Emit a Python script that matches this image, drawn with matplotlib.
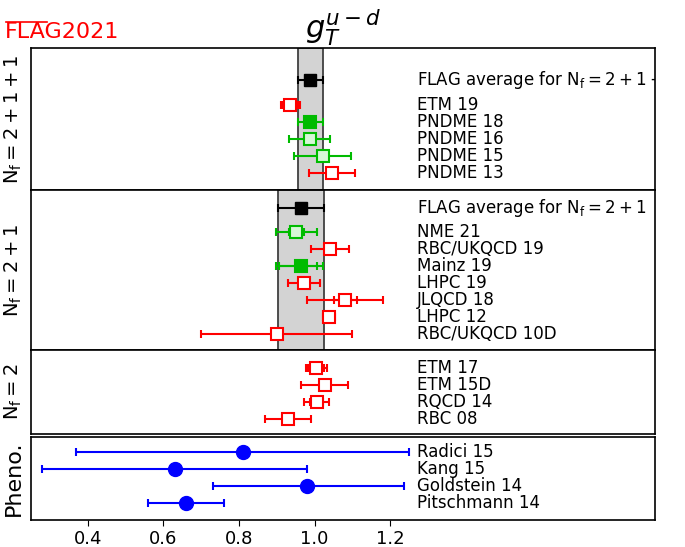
# g_T^{u-d} FLAG 2021 プロット
import numpy as np
import matplotlib
matplotlib.use("Agg")
from matplotlib import pyplot as plt
from matplotlib.lines import Line2D

# --------------------------------------------
# データ
# --------------------------------------------

# Nf=2+1+1
avg_2111 = 0.989
avg_2111_err = 0.033
labels_2111 = ["ETM 19", "PNDME 18", "PNDME 16", "PNDME 15", "PNDME 13"]
vals_2111 = [0.936, 0.989, 0.987, 1.021, 1.047]
inner_2111 = [0.021, 0.032, 0.054, 0.076, 0.061]
outer_2111 = [0.026, 0.032, 0.054, 0.076, 0.061]
style_2111 = ["red_open", "green_full", "green_open", "green_open", "red_open"]

# Nf=2+1
avg_21 = 0.965
avg_21_err = 0.061
labels_21 = ["NME 21", "RBC/UKQCD 19", "Mainz 19", "LHPC 19", "JLQCD 18", "LHPC 12", "RBC/UKQCD 10D"]
vals_21 = [0.951, 1.040, 0.965, 0.972, 1.081, 1.038, 0.900]
inner_lo_21 = [0.020, 0.050, 0.059, 0.042, 0.030, 0.011, 0.200]
inner_hi_21 = [0.020, 0.050, 0.042, 0.042, 0.030, 0.011, 0.200]
outer_lo_21 = [0.054, 0.050, 0.068, 0.042, 0.100, 0.016, 0.200]
outer_hi_21 = [0.054, 0.050, 0.056, 0.042, 0.100, 0.016, 0.200]
style_21 = ["green_open", "red_open", "green_full", "red_open", "red_open", "red_open", "red_open"]

# Nf=2
labels_2 = ["ETM 17", "ETM 15D", "RQCD 14", "RBC 08"]
vals_2 = [1.004, 1.027, 1.005, 0.930]
inner_2 = [0.021, 0.062, 0.017, 0.060]
outer_2 = [0.028, 0.062, 0.034, 0.060]

# Pheno.
labels_ph = ["Radici 15", "Kang 15", "Goldstein 14", "Pitschmann 14"]
vals_ph = [0.81, 0.63, 0.98, 0.66]
err_lo_ph = [0.44, 0.35, 0.25, 0.10]
err_hi_ph = [0.44, 0.35, 0.255, 0.10]

xticks = [0.4, 0.6, 0.8, 1.0, 1.2]

# --------------------------------------------
# スタイル
# --------------------------------------------
RED = "#ff0000"
GREEN = "#00bb00"
LGREEN = "#d6f7d6"
BLUE = "#0000ff"

styles = {
    "red_open": dict(color=RED, mfc="white", mec=RED),
    "green_open": dict(color=GREEN, mfc=LGREEN, mec=GREEN),
    "green_full": dict(color=GREEN, mfc=GREEN, mec=GREEN),
}

W, H = 685, 547
fig = plt.figure(figsize=(W / 100, H / 100), dpi=100)
left_px, right_px = 31, 655
ROW = 17.0  # 1行の高さ(px)


def make_axes(top_px, bot_px):
    ax = fig.add_axes([left_px / W, 1 - bot_px / H, (right_px - left_px) / W, (bot_px - top_px) / H])
    ax.set_xlim(0.25, 1.9)
    ax.set_ylim((bot_px - top_px) / ROW, 0)
    ax.set_yticks([])
    ax.set_xticks(xticks)
    ax.tick_params(axis="x", labelbottom=False, length=0)
    for s in ax.spines.values():
        s.set_linewidth(1.2)
    return ax


def point(ax, y, x, inner, outer, st, ms=9):
    kw = styles[st]
    # 外側エラーバー
    ax.errorbar([x], [y], xerr=[[outer[0]], [outer[1]]], fmt="none", ecolor=kw["color"],
                elinewidth=1.5, capsize=3, capthick=1.5, zorder=3)
    # 内側エラーバー
    if inner is not None and (abs(inner[0] - outer[0]) > 1e-6 or abs(inner[1] - outer[1]) > 1e-6):
        ax.errorbar([x], [y], xerr=[[inner[0]], [inner[1]]], fmt="none", ecolor=kw["color"],
                    elinewidth=1.5, capsize=3, capthick=1.5, zorder=3)
    ax.plot([x], [y], "s", ms=ms, mfc=kw["mfc"], mec=kw["mec"], mew=1.5, zorder=4)


def label(ax, y, txt):
    ax.text(1.27, y, txt, fontsize=12, va="center", ha="left", clip_on=True)


def band(ax, c, e):
    ax.axvspan(c - e, c + e, facecolor="#d3d3d3", edgecolor="#404040", lw=1.3, zorder=1)


ylab_kw = dict(fontsize=14)

# --------------------------------------------
# Nf=2+1+1
# --------------------------------------------
ax1 = make_axes(48, 190)
band(ax1, avg_2111, avg_2111_err)
ax1.errorbar([avg_2111], [1.9], xerr=avg_2111_err, fmt="s", color="black", ms=9,
             elinewidth=1.5, capsize=3, capthick=1.5, zorder=4)
label(ax1, 1.9, r"FLAG average for $\mathrm{N_f=2+1+1}$")
for i, (lab, v, ei, eo, st) in enumerate(zip(labels_2111, vals_2111, inner_2111, outer_2111, style_2111)):
    y = 3.35 + i
    point(ax1, y, v, (ei, ei), (eo, eo), st)
    label(ax1, y, lab)
ax1.set_ylabel(r"$\mathrm{N_f=2+1+1}$", **ylab_kw)
ax1.yaxis.set_label_coords(-0.012, 0.5)
ax1.set_title(r"$g_T^{u-d}$", fontsize=22, pad=1)

# --------------------------------------------
# Nf=2+1
# --------------------------------------------
ax2 = make_axes(190, 350)
band(ax2, avg_21, avg_21_err)
ax2.errorbar([avg_21], [1.06], xerr=avg_21_err, fmt="s", color="black", ms=9,
             elinewidth=1.5, capsize=3, capthick=1.5, zorder=4)
label(ax2, 1.06, r"FLAG average for $\mathrm{N_f=2+1}$")
for i in range(len(labels_21)):
    y = 2.47 + i
    point(ax2, y, vals_21[i], (inner_lo_21[i], inner_hi_21[i]), (outer_lo_21[i], outer_hi_21[i]), style_21[i])
    label(ax2, y, labels_21[i])
ax2.set_ylabel(r"$\mathrm{N_f=2+1}$", **ylab_kw)
ax2.yaxis.set_label_coords(-0.012, 0.5)

# --------------------------------------------
# Nf=2
# --------------------------------------------
ax3 = make_axes(350, 434)
for i in range(len(labels_2)):
    y = 1.06 + i
    point(ax3, y, vals_2[i], (inner_2[i], inner_2[i]), (outer_2[i], outer_2[i]), "red_open")
    label(ax3, y, labels_2[i])
ax3.set_ylabel(r"$\mathrm{N_f=2}$", **ylab_kw)
ax3.yaxis.set_label_coords(-0.012, 0.5)

# --------------------------------------------
# Pheno.
# --------------------------------------------
ax4 = make_axes(437, 520)
for i in range(len(labels_ph)):
    y = 0.88 + i
    ax4.errorbar([vals_ph[i]], [y], xerr=[[err_lo_ph[i]], [err_hi_ph[i]]], fmt="o", color=BLUE,
                 ms=10, elinewidth=1.5, capsize=3, capthick=1.5, zorder=4)
    label(ax4, y, labels_ph[i])
ax4.set_ylabel("Pheno.", fontsize=16)
ax4.yaxis.set_label_coords(-0.012, 0.5)
ax4.tick_params(axis="x", labelbottom=True, length=4, labelsize=13)

# ロゴ (FLA の上に線)
fig.text(5 / W, 1 - 32 / H, "FLAG2021", color=RED, fontsize=16, va="center", ha="left")
fig.add_artist(Line2D([6 / W, 47 / W], [1 - 22 / H, 1 - 22 / H], color=RED, lw=1.2,
                      transform=fig.transFigure))

fig.savefig("out.png", dpi=100)
